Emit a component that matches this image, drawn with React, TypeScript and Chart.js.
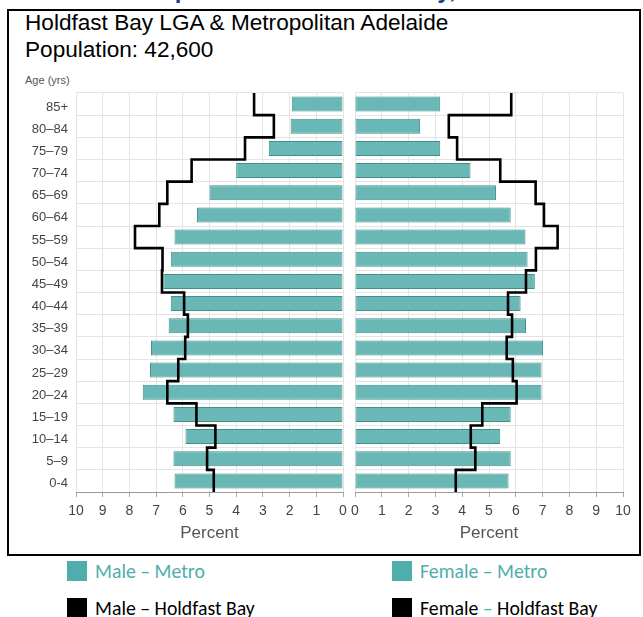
import { useEffect, useRef } from "react";
import { Chart, registerables } from "chart.js";

Chart.register(...registerables);

const ageGroups = [
  "85+", "80–84", "75–79", "70–74", "65–69", "60–64", "55–59", "50–54", "45–49",
  "40–44", "35–39", "30–34", "25–29", "20–24", "15–19", "10–14", "5–9", "0-4",
];
const maleMetro = [1.92, 1.96, 2.78, 4.0, 5.0, 5.47, 6.31, 6.45, 6.73, 6.45, 6.53, 7.19, 7.23, 7.5, 6.35, 5.9, 6.35, 6.31];
const maleHoldfast = [3.33, 2.59, 3.67, 5.67, 6.58, 6.88, 7.79, 6.76, 6.78, 5.95, 5.81, 5.91, 6.17, 6.58, 5.49, 4.78, 5.09, 4.84];
const femaleMetro = [3.18, 2.43, 3.18, 4.31, 5.26, 5.81, 6.36, 6.44, 6.71, 6.18, 6.38, 7.02, 6.96, 6.96, 5.81, 5.42, 5.81, 5.73];
const femaleHoldfast = [5.83, 3.5, 3.81, 5.42, 6.74, 7.05, 7.56, 6.75, 6.38, 5.71, 5.86, 5.66, 5.89, 6.03, 4.75, 4.32, 4.49, 3.76];
const percentMin = 0;
const percentMax = 10;
const axisTitle = "Percent";

const NARROW = "'Liberation Sans Narrow', 'Arial Narrow', 'Liberation Sans', Arial, sans-serif";

function stepPoints(values: number[]) {
  const pts: { x: number; y: number }[] = [];
  values.forEach((v, i) => {
    pts.push({ x: v, y: i - 0.5 });
    pts.push({ x: v, y: i + 0.5 });
  });
  return pts;
}

function makeConfig(side: "left" | "right", bars: number[], line: number[]): any {
  const left = side === "left";
  return {
    type: "bar",
    data: {
      labels: ageGroups,
      datasets: [
        {
          type: "line",
          data: stepPoints(line),
          yAxisID: "yStep",
          xAxisID: "x",
          borderColor: "#000000",
          borderWidth: 2.6,
          pointRadius: 0,
          tension: 0,
          fill: false,
          order: 0,
        },
        {
          type: "bar",
          data: bars,
          yAxisID: "y",
          xAxisID: "x",
          backgroundColor: "#6ab8b6",
          borderColor: "#3f908e",
          borderWidth: 1,
          borderSkipped: false,
          grouped: false,
          barPercentage: 0.68,
          categoryPercentage: 1,
          order: 1,
        },
      ],
    },
    options: {
      indexAxis: "y",
      animation: false,
      responsive: false,
      maintainAspectRatio: false,
      devicePixelRatio: 1,
      layout: {
        padding: left ? { top: 8, right: 5, left: 0, bottom: 0 } : { top: 8, right: 13, left: 6, bottom: 0 },
      },
      plugins: { legend: { display: false }, tooltip: { enabled: false } },
      scales: {
        x: {
          type: "linear",
          position: "bottom",
          min: percentMin,
          max: percentMax,
          reverse: left,
          offset: false,
          ticks: {
            stepSize: 1,
            color: "#444",
            padding: 6,
            font: { family: NARROW, size: 14 },
          },
          grid: {
            color: "#e4e4e4",
            lineWidth: 1,
            tickLength: 5,
            tickColor: "#aaaaaa",
          },
          border: { display: true, color: "#9a9a9a", width: 1 },
          title: {
            display: true,
            text: axisTitle,
            color: "#555",
            font: { family: NARROW, size: 17 },
            padding: { top: 0, bottom: 4 },
          },
          afterFit: (s: any) => {
            s.height = 56;
            s.paddingLeft = 0;
            s.paddingRight = 0;
          },
        },
        y: {
          type: "category",
          position: "left",
          offset: true,
          ticks: {
            display: left,
            color: "#444",
            padding: 8,
            labelOffset: 3,
            font: { family: NARROW, size: 13 },
          },
          grid: { color: "#e4e4e4", drawTicks: false, offset: true },
          border: { display: false },
          afterFit: (s: any) => {
            s.width = left ? 66 : 0;
            s.paddingTop = 0;
            s.paddingBottom = 0;
          },
        },
        yStep: {
          type: "linear",
          axis: "y",
          position: "left",
          display: false,
          offset: false,
          grid: { offset: false },
          min: -0.5,
          max: ageGroups.length - 0.5,
          reverse: true,
          afterFit: (s: any) => {
            s.width = 0;
            s.paddingTop = 0;
            s.paddingBottom = 0;
          },
        },
      },
    },
  };
}

function PyramidHalf(props: { side: "left" | "right"; bars: number[]; line: number[]; style: any }) {
  const ref = useRef<HTMLCanvasElement>(null);
  useEffect(() => {
    if (!ref.current) return;
    const chart = new Chart(ref.current, makeConfig(props.side, props.bars, props.line));
    return () => chart.destroy();
  }, []);
  const { width, height } = props.style;
  return <canvas ref={ref} width={width} height={height} style={{ position: "absolute", ...props.style }} />;
}

const legendFont = "Carlito, Calibri, 'Open Sans', 'Noto Sans', sans-serif";

function LegendItem(props: { x: number; y: number; color: string; children: any }) {
  return (
    <div style={{ position: "absolute", left: props.x, top: props.y, height: 20, display: "flex", alignItems: "center" }}>
      <div style={{ width: 20, height: 20, background: props.color, marginRight: 8 }} />
      <span style={{ fontFamily: legendFont, fontSize: 19.8, whiteSpace: "nowrap" }}>{props.children}</span>
    </div>
  );
}

export default function App() {
  const teal = "#4fadad";
  const titleFont = "'Liberation Sans', Arial, sans-serif";
  return (
    <div style={{ position: "fixed", left: 0, top: 0, width: 643, height: 617, background: "#fff", overflow: "hidden" }}>
      <div
        style={{
          position: "absolute",
          left: 144,
          top: -22,
          fontFamily: titleFont,
          fontWeight: "bold",
          fontSize: 24,
          lineHeight: "24px",
          color: "#1b3f7c",
          whiteSpace: "nowrap",
          height: 31,
          overflow: "hidden",
        }}
      >
        Population of Holdfast Bay,
      </div>
      <div
        style={{
          position: "absolute",
          left: 7,
          top: 9,
          width: 630,
          height: 543,
          border: "2px solid #000",
          background: "transparent",
        }}
      />
      <div style={{ position: "absolute", left: 25, top: 10, fontFamily: titleFont, fontSize: 22.6, lineHeight: "25px", color: "#000", whiteSpace: "nowrap" }}>
        Holdfast Bay LGA &amp; Metropolitan Adelaide
      </div>
      <div style={{ position: "absolute", left: 25, top: 37, fontFamily: titleFont, fontSize: 22.6, lineHeight: "25px", color: "#000", whiteSpace: "nowrap" }}>
        Population: 42,600
      </div>
      <div style={{ position: "absolute", left: 25, top: 73, fontFamily: NARROW, fontSize: 11, lineHeight: "14px", color: "#555", whiteSpace: "nowrap" }}>
        Age (yrs)
      </div>
      <PyramidHalf side="left" bars={maleMetro} line={maleHoldfast} style={{ left: 10, top: 85, width: 338, height: 463 }} />
      <PyramidHalf side="right" bars={femaleMetro} line={femaleHoldfast} style={{ left: 349, top: 85, width: 287, height: 463 }} />
      <LegendItem x={67} y={561} color={teal}>
        <span style={{ color: teal }}>Male – Metro</span>
      </LegendItem>
      <LegendItem x={392} y={561} color={teal}>
        <span style={{ color: teal }}>Female – Metro</span>
      </LegendItem>
      <LegendItem x={67} y={598} color="#000">
        <span style={{ color: "#000" }}>Male – Holdfast Bay</span>
      </LegendItem>
      <LegendItem x={392} y={598} color="#000">
        <span style={{ color: "#000" }}>
          Female <span style={{ color: teal }}>–</span> Holdfast Bay
        </span>
      </LegendItem>
    </div>
  );
}
